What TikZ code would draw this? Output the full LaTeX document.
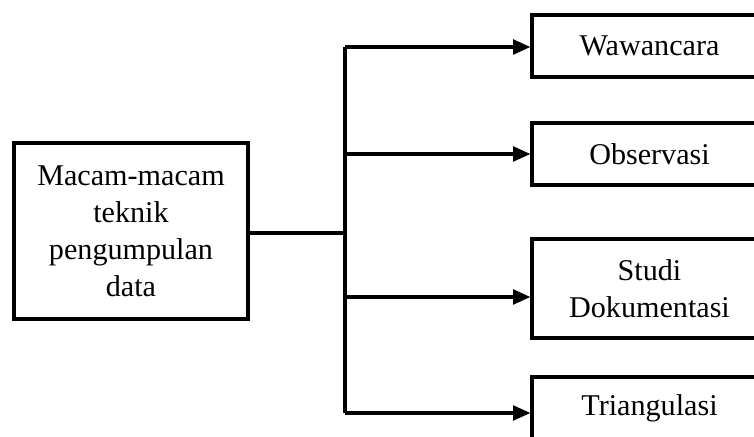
\documentclass[tikz,border=0pt]{standalone}
\usepackage{fontspec}
\setmainfont{Liberation Serif}
\usetikzlibrary{arrows.meta}
\tikzset{
   box/.style={draw,line width=1.2pt,rectangle,align=center,inner sep=2pt,
     font=\fontsize{11.3}{13.9}\selectfont},
   tekbox/.style={box,minimum width=88.1pt,minimum height=23.25pt},
   cab/.style={line width=1.2pt},
   arr/.style={cab,-{Triangle[length=6.5pt,width=5.5pt]}},
 }
\newcommand{\dcab}[2]{\draw[cab] (#1) -- (#2)}
\newcommand{\darr}[2]{\draw[arr] (#1) -- (#2 |- #1)}
\begin{document}
\begin{tikzpicture}[x=0.375pt,y=-0.375pt]
      \useasboundingbox (0,0) rectangle (754,437);
      \clip (0,0) rectangle (754,437);

      \node[box,minimum width=87.75pt,minimum height=66pt] (Macam) at (131,231)
        {Macam-macam\\teknik\\pengumpulan\\data};

      \node[tekbox] (Wwc) at (649.5,46) {Wawancara};
      \node[tekbox] (Obs) at (649.5,154) {Observasi};
      \node[tekbox,minimum height=37.1pt] (Dok) at (649.5,288.5) {Studi\\Dokumentasi};
      \node[tekbox] (Tri) at (649.5,408) {Triangulasi};

      \coordinate (J0) at (345,233);
      \coordinate (J1) at (345,47);
      \coordinate (J2) at (345,154);
      \coordinate (J3) at (345,297);
      \coordinate (J4) at (345,413);

      \dcab{Macam.east |- J0}{J0};
      \dcab{J1}{J4};
      \darr{J1}{Wwc.west};
      \darr{J2}{Obs.west};
      \darr{J3}{Dok.west};
      \darr{J4}{Tri.west};
    \end{tikzpicture}
\end{document}
